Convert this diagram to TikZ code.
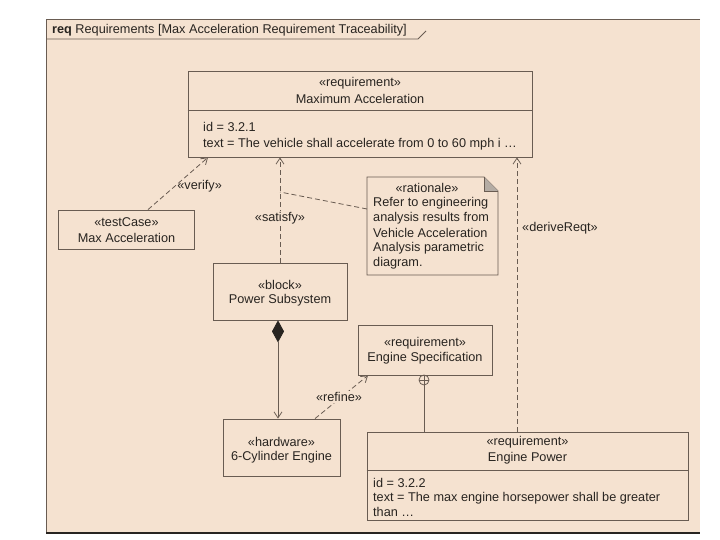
\documentclass[tikz,border=0pt]{standalone}
\usepackage{fontspec}
\setmainfont{Liberation Sans}
\usetikzlibrary{arrows.meta,calc}
\definecolor{bgc}{RGB}{245,226,208}
\definecolor{linec}{RGB}{105,92,82}
\definecolor{textc}{RGB}{40,36,32}
\definecolor{foldc}{RGB}{180,172,164}
\begin{document}
\begin{tikzpicture}[x=1pt,y=-1pt,
  txt/.style={font=\fontsize{12.7}{15}\selectfont, text=textc, inner sep=0pt},
  box/.style={draw=linec, line width=0.8pt, inner sep=0pt},
  conn/.style={draw=linec, line width=0.8pt},
  dep/.style={conn, dash pattern=on 5pt off 3pt, -{Straight Barb[length=6pt,width=8pt]}},
  lbl/.style={txt, fill=bgc, inner sep=1pt}
]
\useasboundingbox (0,0) rectangle (720,540);
% frame
\fill[bgc] (46,19) rectangle (700,533);
\draw[linec, line width=0.8pt] (700,19) -- (46,19) -- (46,533);
\draw[textc, line width=1.2pt] (46,533) -- (700,533);
\draw[linec, line width=0.8pt] (46,39) -- (418,39) -- (426,31);
\node[txt, anchor=base west] (hdr) at (52,33.5) {\textbf{req} Requirements [Max Acceleration Requirement Traceability]};

% Maximum Acceleration
\node[box, minimum width=344pt, minimum height=86pt] (maxacc) at (360,114) {};
\draw[conn] (maxacc.west |- 0,110) -- (maxacc.east |- 0,110);
\node[txt] (maxst) at (360,83) {«requirement»};
\node[txt] (maxnm) at (360,99) {Maximum Acceleration};
\node[txt, anchor=west] (maxid) at (203,127) {id = 3.2.1};
\node[txt, anchor=west] (maxtx) at (203,144) {text = The vehicle shall accelerate from 0 to 60 mph i …};

% testCase
\node[box, minimum width=136pt, minimum height=39pt] (tc) at (126.5,229.5) {};
\node[txt] (tcst) at (126.5,222) {«testCase»};
\node[txt] (tcnm) at (126.5,238) {Max Acceleration};

% Power Subsystem
\node[box, minimum width=134pt, minimum height=57pt] (ps) at (280,291.5) {};
\node[txt] (psst) at (280,285) {«block»};
\node[txt] (psnm) at (280,300) {Power Subsystem};

% rationale note
\draw[box, fill=bgc] (367,177) -- (484,177) -- (498,191) -- (498,275) -- (367,275) -- cycle;
\fill[foldc] (484,177) -- (484,191) -- (498,191) -- cycle;
\draw[conn] (484,177) -- (484,191) -- (498,191);
\node[txt] (ratst) at (427,188) {«rationale»};
\node[txt, anchor=west] (rat1) at (373,203) {Refer to engineering};
\node[txt, anchor=west] (rat2) at (373,218) {analysis results from};
\node[txt, anchor=west] (rat3) at (373,233) {Vehicle Acceleration};
\node[txt, anchor=west] (rat4) at (373,248) {Analysis parametric};
\node[txt, anchor=west] (rat5) at (373,263) {diagram.};
\coordinate (note) at (367,209);

% Engine Specification
\node[box, minimum width=134pt, minimum height=50pt] (es) at (425,350) {};
\node[txt] (esst) at (425,343) {«requirement»};
\node[txt] (esnm) at (425,358) {Engine Specification};

% 6-Cylinder Engine
\node[box, minimum width=117pt, minimum height=57pt] (cyl) at (281.5,447.5) {};
\node[txt] (cylst) at (281.5,442) {«hardware»};
\node[txt] (cylnm) at (281.5,457) {6-Cylinder Engine};

% Engine Power
\node[box, minimum width=321pt, minimum height=88pt] (ep) at (527.5,476.5) {};
\draw[conn] (ep.west |- 0,470) -- (ep.east |- 0,470);
\node[txt] (epst) at (527.5,442) {«requirement»};
\node[txt] (epnm) at (527.5,458) {Engine Power};
\node[txt, anchor=west] (epid) at (373,483) {id = 3.2.2};
\node[txt, anchor=west] (eptx) at (373,498) {text = The max engine horsepower shall be greater};
\node[txt, anchor=west] (epth) at (373,512) {than …};

% connectors
% verify
\draw[dep] (tc.north -| 148,0) -- node[txt, pos=0.45, anchor=west, xshift=2pt] (verl) {«verify»} (maxacc.south -| 208,0);
% satisfy
\coordinate (sat) at (280,192);
\draw[dep] (ps.north -| 280,0) -- (maxacc.south -| 280,0);
\node[lbl] (satl) at (280,218) {«satisfy»};
% note anchor
\draw[conn, dash pattern=on 5pt off 3pt] (note) -- (sat);
% deriveReqt
\draw[dep] (ep.north -| 517,0) -- (maxacc.south -| 517,0);
\node[txt] (derl) at (560,228) {«deriveReqt»};
% composition
\draw[conn, {Diamond[length=22pt,width=12pt,fill=textc,color=textc]}-{Straight Barb[length=6pt,width=8pt]}] (ps.south -| 278,0) -- (cyl.north -| 278,0);
% refine
\draw[dep] (cyl.north -| 315,0) -- (es.south -| 368,0);
\node[lbl] (refl) at (339,397) {«refine»};
% containment
\draw[conn] (424,385) -- (ep.north -| 424,0);
\draw[conn] (424,380) circle[radius=5pt];
\draw[conn] (419,380) -- (429,380) (424,375) -- (424,385);
\end{tikzpicture}
\end{document}
